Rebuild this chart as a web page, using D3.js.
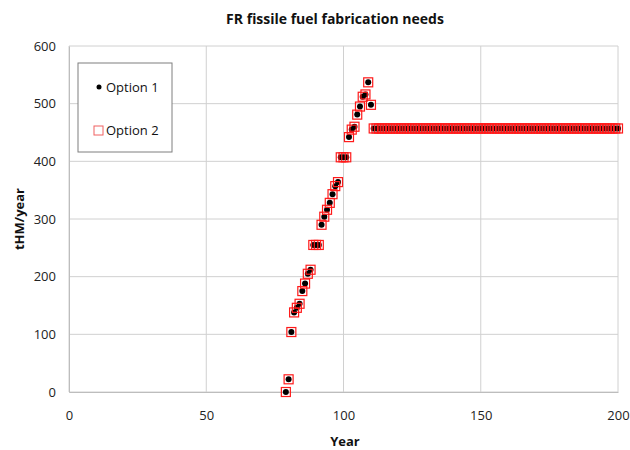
<!DOCTYPE html>
<html><head><meta charset="utf-8">
<script src="https://cdn.jsdelivr.net/npm/d3@7"></script>
<style>body{margin:0;background:#fff}svg{display:block}text{font-family:"Open Sans","Liberation Sans",sans-serif}</style>
</head><body>
<script>
const title = "FR fissile fuel fabrication needs";
const xLabel = "Year";
const yLabel = "tHM/year";
const xTicks = [0, 50, 100, 150, 200];
const yTicks = [0, 100, 200, 300, 400, 500, 600];
const seriesNames = ["Option 1", "Option 2"];
const rampYears = [79,80,81,82,83,84,85,86,87,88,89,90,91,92,93,94,95,96,97,98,99,100,101,102,103,104,105,106,107,108,109,110];
const rampValues = [0,22,104,138,146,153,175,188,205,212,255,255,255,290,304,316,328,343,357,364,407,407,407,442,455,460,481,495,512,516,537,498];
const plateauYears = [111,112,113,114,115,116,117,118,119,120,121,122,123,124,125,126,127,128,129,130,131,132,133,134,135,136,137,138,139,140,141,142,143,144,145,146,147,148,149,150,151,152,153,154,155,156,157,158,159,160,161,162,163,164,165,166,167,168,169,170,171,172,173,174,175,176,177,178,179,180,181,182,183,184,185,186,187,188,189,190,191,192,193,194,195,196,197,198,199,200];
const plateauValue = [457];
const option1 = rampYears.map((y,i)=>({x:y, v:rampValues[i]})).concat(plateauYears.map(y=>({x:y, v:plateauValue[0]})));
const option2 = option1.map(d=>({x:d.x, v:d.v}));

const W=630,H=450, L=69, R=618, T=46, B=392;
const svg=d3.select("body").append("svg").attr("width",W).attr("height",H);
const x=d3.scaleLinear().domain([0,200]).range([L,R]);
const y=d3.scaleLinear().domain([0,600]).range([B,T]);

// gridlines
svg.append("g").selectAll("line").data(yTicks).join("line")
  .attr("x1",L).attr("x2",R).attr("y1",d=>y(d)).attr("y2",d=>y(d))
  .attr("stroke","#d0d0d0").attr("stroke-width",1);
svg.append("g").selectAll("line").data(xTicks).join("line")
  .attr("y1",T).attr("y2",B).attr("x1",d=>x(d)).attr("x2",d=>x(d))
  .attr("stroke","#d0d0d0").attr("stroke-width",1);

// axes
const ya=svg.append("g").attr("transform",`translate(${L},0)`)
  .call(d3.axisLeft(y).tickValues(yTicks).tickSize(0).tickPadding(13));
ya.select(".domain").attr("stroke","#bdbdbd");
ya.selectAll("text").attr("font-size",13).attr("fill","#222").style("font-family","'Open Sans',sans-serif");
const xa=svg.append("g").attr("transform",`translate(0,${B})`)
  .call(d3.axisBottom(x).tickValues(xTicks).tickSize(0).tickPadding(19));
xa.select(".domain").attr("stroke","#bdbdbd");
xa.selectAll("text").attr("font-size",13).attr("fill","#222").style("font-family","'Open Sans',sans-serif");

// series
svg.append("g").selectAll("circle").data(option1).join("circle")
  .attr("cx",d=>x(d.x)).attr("cy",d=>y(d.v)).attr("r",3).attr("fill","#000");
svg.append("g").selectAll("rect").data(option2).join("rect")
  .attr("x",d=>x(d.x)-4.5).attr("y",d=>y(d.v)-4.5).attr("width",9).attr("height",9)
  .attr("fill","none").attr("stroke","#ff1a1a").attr("stroke-width",1.2);

// titles
svg.append("text").attr("x",335).attr("y",24).attr("text-anchor","middle")
  .attr("font-size",14).attr("font-weight","bold").attr("fill","#111").text(title);
svg.append("text").attr("x",345).attr("y",446).attr("text-anchor","middle")
  .attr("font-size",13).attr("font-weight","bold").attr("fill","#111").text(xLabel);
svg.append("text").attr("transform",`translate(24,${(T+B)/2}) rotate(-90)`).attr("text-anchor","middle")
  .attr("font-size",13).attr("font-weight","bold").attr("fill","#111").text(yLabel);

// legend
const lg=svg.append("g");
lg.append("rect").attr("x",78).attr("y",63).attr("width",94).attr("height",89)
  .attr("fill","#fff").attr("stroke","#7f7f7f").attr("stroke-width",1);
lg.append("circle").attr("cx",99).attr("cy",87).attr("r",2.5).attr("fill","#000");
lg.append("rect").attr("x",94).attr("y",126).attr("width",9).attr("height",9)
  .attr("fill","none").attr("stroke","#f06060").attr("stroke-width",1);
lg.append("text").attr("x",106).attr("y",92).attr("font-size",13).attr("fill","#111").text(seriesNames[0]);
lg.append("text").attr("x",106).attr("y",135).attr("font-size",13).attr("fill","#111").text(seriesNames[1]);
</script>
</body></html>
